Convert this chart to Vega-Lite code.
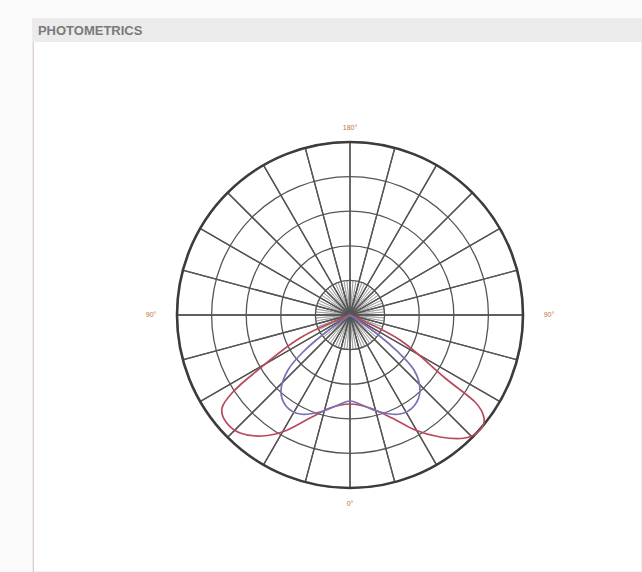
{
  "$schema": "https://vega.github.io/schema/vega-lite/v6.json",
  "width": 609,
  "height": 553,
  "padding": {"left": 33, "top": 19, "right": 0, "bottom": 0},
  "autosize": {"type": "none"},
  "background": "#fafafa",
  "config": {"view": {"stroke": "#d9c9cc", "strokeWidth": 1.2, "fill": "#ffffff"}},
  "datasets": {
    "spokes15": [{"v":3},{"v":3},{"v":3},{"v":3},{"v":3},{"v":3},{"v":3},{"v":3},{"v":3},{"v":3},{"v":3},{"v":3},{"v":3},{"v":3},{"v":3},{"v":3},{"v":3},{"v":3},{"v":3},{"v":3},{"v":3},{"v":3},{"v":3},{"v":3}],
    "spokes5": [{"v":1},{"v":1},{"v":1},{"v":1},{"v":1},{"v":1},{"v":1},{"v":1},{"v":1},{"v":1},{"v":1},{"v":1},{"v":1},{"v":1},{"v":1},{"v":1},{"v":1},{"v":1},{"v":1},{"v":1},{"v":1},{"v":1},{"v":1},{"v":1},{"v":1},{"v":1},{"v":1},{"v":1},{"v":1},{"v":1},{"v":1},{"v":1},{"v":1},{"v":1},{"v":1},{"v":1},{"v":1},{"v":1},{"v":1},{"v":1},{"v":1},{"v":1},{"v":1},{"v":1},{"v":1},{"v":1},{"v":1},{"v":1},{"v":1},{"v":1},{"v":1},{"v":1},{"v":1},{"v":1},{"v":1},{"v":1},{"v":1},{"v":1},{"v":1},{"v":1},{"v":1},{"v":1},{"v":1},{"v":1},{"v":1},{"v":1},{"v":1},{"v":1},{"v":1},{"v":1},{"v":1},{"v":1}],
    "rings": [{"r":1},{"r":2},{"r":3},{"r":4}],
    "outer": [{"r":5}],
    "curves": [
      {"curve":"C0-C180","i":0,"x":0,"y":0},
      {"curve":"C0-C180","i":1,"x":-1.445,"y":-0.665},
      {"curve":"C0-C180","i":2,"x":-2.803,"y":-1.705},
      {"curve":"C0-C180","i":3,"x":-3.41,"y":-2.254},
      {"curve":"C0-C180","i":4,"x":-3.699,"y":-2.688},
      {"curve":"C0-C180","i":5,"x":-3.584,"y":-3.092},
      {"curve":"C0-C180","i":6,"x":-3.179,"y":-3.41},
      {"curve":"C0-C180","i":7,"x":-2.543,"y":-3.497},
      {"curve":"C0-C180","i":8,"x":-1.879,"y":-3.353},
      {"curve":"C0-C180","i":9,"x":-1.156,"y":-2.977},
      {"curve":"C0-C180","i":10,"x":-0.578,"y":-2.688},
      {"curve":"C0-C180","i":11,"x":0,"y":-2.572},
      {"curve":"C0-C180","i":12,"x":0.578,"y":-2.688},
      {"curve":"C0-C180","i":13,"x":1.214,"y":-2.977},
      {"curve":"C0-C180","i":14,"x":1.879,"y":-3.324},
      {"curve":"C0-C180","i":15,"x":2.601,"y":-3.526},
      {"curve":"C0-C180","i":16,"x":3.324,"y":-3.555},
      {"curve":"C0-C180","i":17,"x":3.757,"y":-3.324},
      {"curve":"C0-C180","i":18,"x":3.873,"y":-2.977},
      {"curve":"C0-C180","i":19,"x":3.613,"y":-2.514},
      {"curve":"C0-C180","i":20,"x":2.746,"y":-1.821},
      {"curve":"C0-C180","i":21,"x":1.445,"y":-0.723},
      {"curve":"C0-C180","i":22,"x":0,"y":0},
      {"curve":"C90-C270","i":0,"x":0,"y":0},
      {"curve":"C90-C270","i":1,"x":-0.723,"y":-0.52},
      {"curve":"C90-C270","i":2,"x":-1.358,"y":-1.069},
      {"curve":"C90-C270","i":3,"x":-1.792,"y":-1.59},
      {"curve":"C90-C270","i":4,"x":-1.994,"y":-2.168},
      {"curve":"C90-C270","i":5,"x":-1.85,"y":-2.63},
      {"curve":"C90-C270","i":6,"x":-1.445,"y":-2.861},
      {"curve":"C90-C270","i":7,"x":-0.867,"y":-2.803},
      {"curve":"C90-C270","i":8,"x":-0.347,"y":-2.601},
      {"curve":"C90-C270","i":9,"x":0,"y":-2.486},
      {"curve":"C90-C270","i":10,"x":0.347,"y":-2.601},
      {"curve":"C90-C270","i":11,"x":0.867,"y":-2.803},
      {"curve":"C90-C270","i":12,"x":1.445,"y":-2.861},
      {"curve":"C90-C270","i":13,"x":1.85,"y":-2.63},
      {"curve":"C90-C270","i":14,"x":2.023,"y":-2.168},
      {"curve":"C90-C270","i":15,"x":1.85,"y":-1.59},
      {"curve":"C90-C270","i":16,"x":1.387,"y":-1.069},
      {"curve":"C90-C270","i":17,"x":0.751,"y":-0.52},
      {"curve":"C90-C270","i":18,"x":0,"y":0}
    ],
    "labels": [
      {"lab":"180°","x":0,"y":5.4},
      {"lab":"0°","x":0,"y":-5.45},
      {"lab":"90°","x":-5.75,"y":0},
      {"lab":"90°","x":5.75,"y":0}
    ],
    "header": [{"lab":"PHOTOMETRICS","x":-9.02,"y":8.21}]
  },
  "layer": [
    {
      "data": {"name": "header"},
      "mark": {"type": "rect", "color": "#ebebeb"},
      "encoding": {
        "x": {"datum": -9.162, "type": "quantitative", "scale": {"domain": [-9.162, 8.439], "nice": false, "zero": false}, "axis": null},
        "x2": {"datum": 8.439},
        "y": {"datum": 7.89, "type": "quantitative", "scale": {"domain": [-7.428, 8.555], "nice": false, "zero": false}, "axis": null},
        "y2": {"datum": 8.555}
      }
    },
    {
      "data": {"name": "spokes5"},
      "mark": {"type": "arc", "filled": false, "color": "#8c8c8c", "strokeWidth": 0.6},
      "encoding": {
        "x": {"datum": 0, "type": "quantitative", "scale": {"domain": [-9.162, 8.439], "nice": false, "zero": false}, "axis": null},
        "y": {"datum": 0, "type": "quantitative", "scale": {"domain": [-7.428, 8.555], "nice": false, "zero": false}, "axis": null},
        "theta": {"field": "v", "type": "quantitative", "stack": true},
        "radius": {"datum": 1, "type": "quantitative", "scale": {"type": "linear", "domain": [0, 5], "range": [0, 173], "zero": true, "nice": false}}
      }
    },
    {
      "data": {"name": "spokes15"},
      "mark": {"type": "arc", "filled": false, "color": "#555555", "strokeWidth": 1.3},
      "encoding": {
        "x": {"datum": 0, "type": "quantitative", "scale": {"domain": [-9.162, 8.439], "nice": false, "zero": false}, "axis": null},
        "y": {"datum": 0, "type": "quantitative", "scale": {"domain": [-7.428, 8.555], "nice": false, "zero": false}, "axis": null},
        "theta": {"field": "v", "type": "quantitative", "stack": true},
        "radius": {"datum": 5, "type": "quantitative", "scale": {"type": "linear", "domain": [0, 5], "range": [0, 173], "zero": true, "nice": false}}
      }
    },
    {
      "data": {"name": "rings"},
      "mark": {"type": "arc", "filled": false, "color": "#555555", "strokeWidth": 1.3, "theta": 0, "theta2": 6.2832},
      "encoding": {
        "x": {"datum": 0, "type": "quantitative", "scale": {"domain": [-9.162, 8.439], "nice": false, "zero": false}, "axis": null},
        "y": {"datum": 0, "type": "quantitative", "scale": {"domain": [-7.428, 8.555], "nice": false, "zero": false}, "axis": null},
        "radius": {"field": "r", "type": "quantitative", "stack": null, "scale": {"type": "linear", "domain": [0, 5], "range": [0, 173], "zero": true, "nice": false}}
      }
    },
    {
      "data": {"name": "outer"},
      "mark": {"type": "arc", "filled": false, "color": "#3c3c3c", "strokeWidth": 2.6, "theta": 0, "theta2": 6.2832},
      "encoding": {
        "x": {"datum": 0, "type": "quantitative", "scale": {"domain": [-9.162, 8.439], "nice": false, "zero": false}, "axis": null},
        "y": {"datum": 0, "type": "quantitative", "scale": {"domain": [-7.428, 8.555], "nice": false, "zero": false}, "axis": null},
        "radius": {"field": "r", "type": "quantitative", "stack": null, "scale": {"type": "linear", "domain": [0, 5], "range": [0, 173], "zero": true, "nice": false}}
      }
    },
    {
      "data": {"name": "curves"},
      "mark": {"type": "line", "interpolate": "cardinal", "strokeWidth": 1.7},
      "encoding": {
        "x": {"field": "x", "type": "quantitative", "scale": {"domain": [-9.162, 8.439], "nice": false, "zero": false}, "axis": null},
        "y": {"field": "y", "type": "quantitative", "scale": {"domain": [-7.428, 8.555], "nice": false, "zero": false}, "axis": null},
        "order": {"field": "i", "type": "quantitative"},
        "color": {"field": "curve", "type": "nominal", "scale": {"domain": ["C0-C180", "C90-C270"], "range": ["#b84a5c", "#7a70b4"]}, "legend": null}
      }
    },
    {
      "data": {"name": "labels"},
      "mark": {"type": "text", "color": "#b8763e", "fontSize": 7, "font": "Liberation Sans", "align": "center", "baseline": "middle"},
      "encoding": {
        "x": {"field": "x", "type": "quantitative", "scale": {"domain": [-9.162, 8.439], "nice": false, "zero": false}, "axis": null},
        "y": {"field": "y", "type": "quantitative", "scale": {"domain": [-7.428, 8.555], "nice": false, "zero": false}, "axis": null},
        "text": {"field": "lab"}
      }
    },
    {
      "data": {"name": "header"},
      "mark": {"type": "text", "color": "#7a7a7a", "fontSize": 13, "fontWeight": "bold", "font": "Liberation Sans", "align": "left", "baseline": "middle"},
      "encoding": {
        "x": {"field": "x", "type": "quantitative", "scale": {"domain": [-9.162, 8.439], "nice": false, "zero": false}, "axis": null},
        "y": {"field": "y", "type": "quantitative", "scale": {"domain": [-7.428, 8.555], "nice": false, "zero": false}, "axis": null},
        "text": {"field": "lab"}
      }
    }
  ]
}
